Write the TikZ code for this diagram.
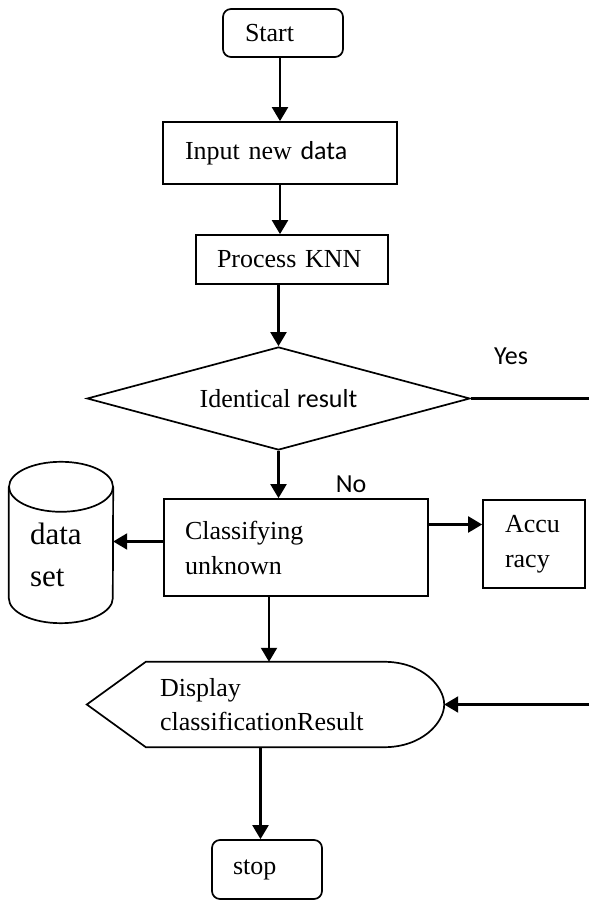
\documentclass[tikz,border=0pt]{standalone}
\usepackage{fontspec}
\setmainfont{Liberation Serif}
\newfontfamily\carlito{Carlito}
\usetikzlibrary{shapes.geometric,arrows.meta}
\tikzset{
    flow-box/.style = {draw, line width=1.7pt, rectangle, align=left, inner ysep=0pt, font=\fontsize{26}{35}\selectfont},
    term-box/.style = {flow-box, rounded corners=8pt},
    decision-box/.style = {draw, diamond, line width=1.7pt, aspect=3.7, inner sep=0pt, font=\fontsize{26}{35}\selectfont},
    outline/.style = {line width=1.7pt},
    flow-line/.style = {line width=2.2pt},
    flow-arrow/.style = {flow-line, -{Triangle[length=14pt, width=16pt]}},
    edge-label/.style = {font=\carlito\fontsize{26}{30}\selectfont},
}

\begin{document}
\begin{tikzpicture}[x=1pt, y=1pt]
\useasboundingbox (0,0) rectangle (589,902);
\coordinate (right-edge) at (589,0);

% main column
\node[term-box, minimum height=48pt, text width=76pt, inner xsep=22pt] (start) at (283,869) {Start};
\node[flow-box, minimum height=62pt, text width=190pt, inner xsep=22pt] (input) at (280,749) {Input new {\carlito data}};
\node[flow-box, minimum height=49pt, text width=150pt, inner xsep=21pt] (process) at (292,642.5) {Process KNN};
\node[decision-box, minimum width=383pt, minimum height=103pt] (decide) at (278.5,503.5) {Identical {\carlito result}};
\node[flow-box, minimum height=97pt, text width=222pt, inner xsep=21pt] (classify) at (296,354.5) {Classifying\\unknown};
\node[flow-box, minimum height=88pt, text width=58pt, inner xsep=22pt] (accuracy) at (534,358) {Accu\\racy};

% data store, drawn round its text
\node[align=left, minimum height=136pt, text width=62pt, inner xsep=21pt, inner ysep=0pt, font=\fontsize{31}{42}\selectfont] (dataset) at (61,347) {data\\set};
\draw[outline] (dataset.north) ellipse [x radius=52pt, y radius=25pt];
\draw[outline] (dataset.north west) -- ([yshift=25pt]dataset.south west)
    arc [start angle=180, end angle=360, x radius=52pt, y radius=25pt] -- (dataset.north east);

% display symbol
\node[align=left, minimum height=85pt, text width=211pt, inner xsep=73pt, inner ysep=0pt, font=\fontsize{26}{34}\selectfont] (display) at (265.5,197.5) {Display\\classificationResult};
\draw[outline] (display.west) -- ([xshift=59pt]display.north west) -- ([xshift=-60pt]display.north east)
    .. controls ([xshift=-22pt]display.north east) and ([yshift=18pt]display.east) .. (display.east)
    .. controls ([yshift=-18pt]display.east) and ([xshift=-22pt]display.south east) .. ([xshift=-60pt]display.south east)
    -- ([xshift=59pt]display.south west) -- cycle;

\node[term-box, minimum height=59pt, text width=68pt, inner xsep=21pt] (stop) at (267,32.5) {stop};

% connectors
\draw[flow-arrow] (input.north |- start.south) -- (input.north);
\draw[flow-arrow] (input.south) -- (input.south |- process.north);
\draw[flow-arrow] (decide.north |- process.south) -- (decide.north);
\draw[flow-arrow] (decide.south) -- (decide.south |- classify.north);
\draw[flow-arrow] ([yshift=6pt]classify.west) -- ([yshift=6pt]classify.west -| dataset.east);
\draw[flow-arrow] ([yshift=23pt]classify.east) -- ([yshift=23pt]classify.east -| accuracy.west);
\draw[flow-arrow] ([xshift=-27pt]classify.south) -- ([xshift=-27pt]classify.south |- display.north);
\draw[flow-arrow] ([xshift=-5pt]display.south) -- ([xshift=-5pt]display.south |- stop.north);
\draw[flow-line] (decide.east) -- (decide.east -| right-edge);
\draw[flow-arrow] (display.east -| right-edge) -- (display.east);

\node[edge-label] (yes) at (511,546) {Yes};
\node[edge-label] (no) at (351,418) {No};
\end{tikzpicture}
\end{document}
